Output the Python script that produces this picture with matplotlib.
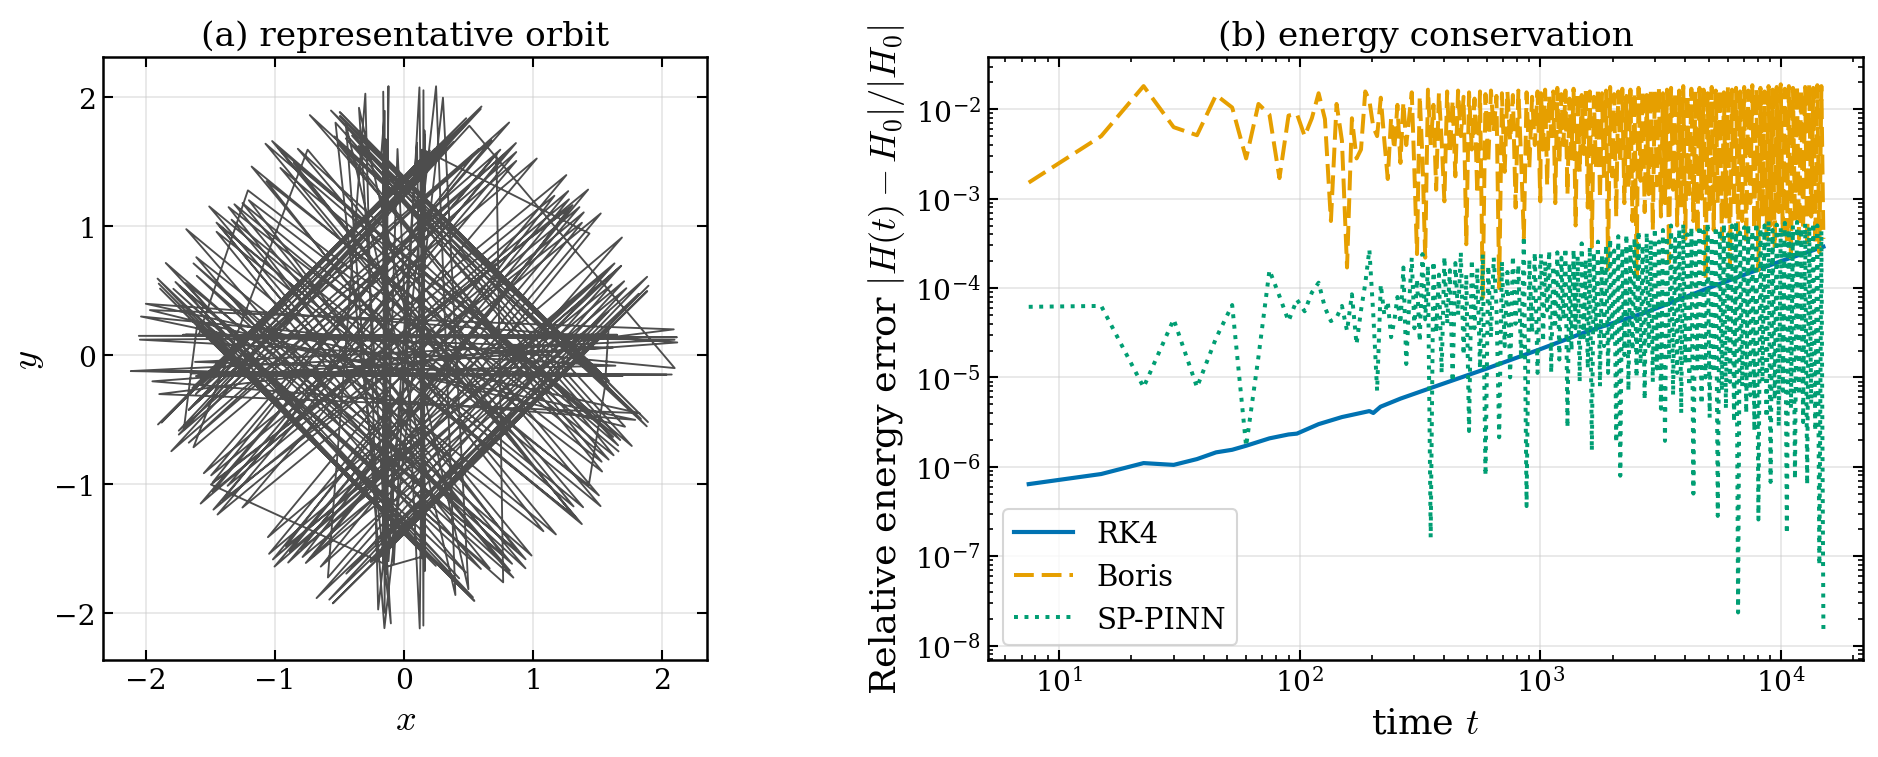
import numpy as np
import matplotlib
matplotlib.use('Agg')
import matplotlib.pyplot as plt

plt.rcParams['font.family'] = 'serif'
plt.rcParams['font.serif'] = ['DejaVu Serif']
plt.rcParams['mathtext.fontset'] = 'cm'

# ---- (a) orbit: sampled positions in time order, polar angle (deg) / radius ----
orbit_ang = [84.2, 188.2, 75.3, 188.1, 76.9, 199.4, 63.3, 218.6, 36.7, 244.7,
             12.1, 263.5, 14.8, 261.9, 6.0, 253.0, 18.6, 242.1, 41.7, 213.8,
             264.3, 95.5, 265.3, 94.5, 265.7, 86.5, 275.5, 84.8, 274.1, 85.0,
             275.5, 86.7, 267.2, 95.2, 264.1, 94.5,
             96.5, 352.8, 105.0, 353.8, 103.3, 338.3, 119.8, 316.6, 146.6, 291.9,
             169.1, 275.8, 164.7, 278.1, 173.6, 285.9, 162.8, 296.3, 139.8, 324.9,
             354.5, 185.7, 355.9, 185.2, 354.6, 183.3, 2.1, 174.5, 5.5, 174.6,
             3.8, 174.7, 5.6, 176.6, 357.2, 185.4,
             186.8, 82.8, 195.5, 83.8, 188.8, 72.7, 194.2, 67.9, 211.9, 46.7,
             238.3, 18.8, 260.9, 6.7, 254.0, 6.1, 261.9, 17.9, 248.5, 33.3,
             84.6, 275.5, 85.8, 275.1, 84.7, 273.3, 91.8, 264.7, 95.9, 265.7,
             94.8, 264.3, 93.3, 264.8,
             276.5, 172.2, 286.0, 173.8, 278.6, 162.7, 285.9, 154.7, 308.4, 128.3,
             334.5, 102.2, 352.9, 104.8, 353.2, 97.7, 343.7, 107.6, 331.7, 133.4,
             174.6, 5.8, 175.8, 4.9, 174.6, 3.3, 181.8, 354.5, 185.7, 355.8,
             184.8, 354.6, 183.3, 354.5,
             7.7, 263.9, 15.9, 260.9, 16.8, 243.3, 41.7, 213.6, 70.1, 190.5,
             83.6, 195.7, 81.4, 185.8, 72.7, 198.6,
             171.8, 276.1, 163.7, 278.6, 161.7, 300.0, 135.0, 329.6, 107.3, 351.4,
             96.1, 344.7, 98.1, 353.3, 106.6, 342.1,
             169.9, 5.5, 189.0, 346.2, 168.7, 2.7, 185.9, 344.4, 171.6, 357.3,
             74.1, 202.4, 61.1, 219.0, 40.2, 238.5, 22.4, 255.2, 14.7, 250.2,
             23.6, 235.8, 45.0, 216.1, 64.9, 198.5, 74.3, 194.2, 65.7, 210.5,
             48.0, 233.2, 28.4, 251.1,
             98.4, 264.2, 83.2, 282.1, 104.1, 265.9, 81.4, 285.4, 100.3, 267.2,
             106.4, 338.6, 121.6, 318.3, 142.6, 297.4, 158.8, 283.9, 162.2, 296.2,
             144.9, 316.6, 123.2, 337.2, 105.0, 345.0, 111.4, 333.0, 128.9, 310.3,
             149.9, 289.8, 163.9, 293.6,
             65.4, 215.5, 43.4, 237.3, 22.5, 240.8, 38.5, 220.5, 60.0, 202.1,
             62.2, 216.5, 42.0, 239.8, 22.4, 245.2, 35.8, 223.3, 56.0, 203.6,
             115.1, 324.3, 136.7, 302.5, 156.4, 299.7, 141.8, 319.7, 121.2, 338.7,
             117.2, 322.5, 138.3, 300.8, 159.0, 296.2, 144.7, 316.5, 123.4, 335.9]
orbit_rad = [1.55, 1.62, 1.90, 1.58, 1.70, 1.85, 1.75, 1.80, 1.72, 1.78,
             1.62, 1.56, 1.95, 1.60, 1.54, 1.98, 1.80, 1.70, 1.75, 1.80,
             1.62, 1.58, 1.70, 2.05, 1.60, 1.65, 1.56, 1.75, 2.10, 1.60,
             1.68, 2.08, 1.62, 1.66, 1.57, 1.90,
             1.56, 1.60, 1.92, 1.55, 1.75, 1.90, 1.72, 1.80, 1.74, 1.78,
             1.64, 1.55, 1.96, 1.60, 1.57, 1.95, 1.82, 1.72, 1.78, 1.75,
             1.58, 1.62, 2.08, 1.56, 1.70, 2.10, 1.62, 1.58, 1.66, 1.60,
             2.12, 1.72, 1.55, 2.05, 1.64, 1.60,
             1.57, 1.60, 1.95, 1.55, 1.66, 2.02, 1.72, 1.80, 1.76, 1.70,
             1.74, 1.70, 1.62, 1.58, 2.00, 1.56, 1.60, 1.98, 1.76, 1.72,
             1.60, 1.66, 2.06, 1.58, 1.72, 2.12, 1.60, 1.62, 1.56, 2.00,
             1.68, 1.60, 2.09, 1.65,
             1.56, 1.62, 1.98, 1.55, 1.65, 2.00, 1.75, 1.78, 1.74, 1.72,
             1.80, 1.66, 1.58, 1.95, 1.55, 1.60, 1.96, 1.78, 1.74, 1.76,
             1.60, 1.58, 2.06, 1.64, 1.70, 2.10, 1.62, 1.56, 1.60, 2.04,
             1.66, 1.70, 2.12, 1.57,
             1.60, 1.56, 1.97, 1.62, 1.80, 1.75, 1.72, 1.78, 1.70, 1.64,
             1.57, 1.98, 1.62, 1.55, 2.00, 1.80,
             1.62, 1.56, 1.98, 1.62, 1.78, 1.74, 1.70, 1.78, 1.72, 1.60,
             1.56, 1.96, 1.60, 1.58, 1.98, 1.80,
             2.00, 2.10, 1.92, 1.88, 2.04, 2.12, 1.96, 1.86, 2.06, 2.10,
             1.85, 1.95, 1.80, 1.90, 1.78, 1.92, 1.82, 1.75, 1.88, 2.00,
             1.78, 1.86, 1.80, 1.95, 1.76, 1.84, 1.90, 1.72, 1.98, 1.80,
             1.88, 1.76, 1.92, 1.82,
             2.05, 1.98, 2.10, 1.90, 1.85, 2.12, 2.02, 1.88, 1.95, 2.08,
             1.88, 1.80, 1.95, 1.76, 1.90, 1.82, 1.98, 1.78, 1.86, 1.92,
             1.75, 1.84, 1.96, 1.80, 1.74, 1.90, 2.00, 1.78, 1.88, 1.82,
             1.95, 1.76, 1.86, 1.92,
             1.72, 1.82, 1.76, 1.88, 1.70, 1.84, 1.78, 1.90, 1.74, 1.80,
             1.86, 1.70, 1.92, 1.76, 1.82, 1.74, 1.88, 1.72, 1.84, 1.78,
             1.76, 1.86, 1.72, 1.84, 1.78, 1.90, 1.70, 1.82, 1.88, 1.74,
             1.80, 1.92, 1.76, 1.84, 1.72, 1.86, 1.78, 1.90, 1.74, 1.82]

# ---- (b) relative energy error ----
dt = 7.5
t_early = dt * np.arange(1, 41)          # 7.5 ... 300
t_mid = np.geomspace(307.5, 1000, 46)
t_late = np.geomspace(1007.5, 15000, 140)

# log10 of the error
boris_early = [-2.82, -2.30, -1.74, -2.20, -2.29, -1.84, -1.98, -2.55, -1.94, -2.06,
               -2.77, -2.07, -2.05, -2.30, -2.10, -1.82, -2.11, -3.25, -1.94, -2.35,
               -3.77, -2.10, -2.55, -2.45, -1.80, -1.90, -2.20, -2.30, -1.87, -2.35,
               -2.78, -2.10, -2.45, -1.95, -2.60, -1.92, -2.40, -2.10, -1.81, -2.70]
boris_mid = [-3.62, -1.85, -2.55, -3.66, -1.78, -2.40, -1.95, -2.90, -1.82, -2.35,
             -3.03, -1.80, -2.50, -1.90, -2.75, -1.79, -2.30, -1.86, -3.51, -1.81,
             -2.45, -1.88, -2.95, -1.80, -4.11, -1.83, -2.60, -1.79, -2.25, -1.85,
             -4.00, -1.82, -2.70, -1.80, -2.35, -1.84, -3.10, -1.79, -2.55, -3.44,
             -1.81, -2.65, -1.86, -2.40, -1.80, -3.03]
boris_late = [-1.82, -2.45, -1.78, -2.85, -1.85, -2.30, -1.80, -3.05, -1.76, -2.60,
              -1.83, -2.40, -1.79, -2.95, -1.88, -2.55, -1.77, -3.30, -1.81, -2.70,
              -1.84, -2.50, -1.78, -3.10, -1.80, -3.54, -1.86, -2.65, -1.76, -3.00,
              -1.82, -2.80, -1.79, -3.79, -1.75, -2.75, -1.83, -3.20, -1.80, -2.60,
              -1.77, -3.05, -1.85, -2.90, -1.78, -3.25, -1.81, -3.86, -1.76, -2.80,
              -1.79, -3.15, -1.84, -2.95, -1.77, -3.35, -1.80, -2.85, -1.75, -3.20,
              -1.82, -3.05, -1.78, -3.71, -1.76, -2.90, -1.81, -3.30, -1.79, -3.10,
              -1.74, -3.45, -1.83, -2.95, -1.77, -3.25, -1.80, -3.40, -1.76, -3.00,
              -1.78, -3.90, -1.82, -3.15, -1.75, -3.35, -1.79, -3.05, -1.77, -3.45,
              -1.81, -3.20, -1.74, -3.75, -1.78, -3.10, -1.76, -3.40, -1.80, -3.25,
              -1.75, -3.50, -1.79, -3.05, -1.73, -3.35, -1.77, -3.80, -1.76, -3.20,
              -1.80, -3.45, -1.74, -3.30, -1.78, -3.55, -1.75, -3.15, -1.72, -3.40,
              -1.77, -3.50, -1.74, -3.70, -1.76, -3.25, -1.73, -3.45, -1.78, -3.35,
              -1.75, -3.55, -1.72, -3.20, -1.76, -3.50, -1.73, -3.60, -1.74, -3.45]

pinn_early = [-4.21, -4.20, -5.11, -4.35, -5.11, -4.56, -4.19, -5.77, -4.77, -3.80,
              -4.09, -4.37, -4.13, -4.26, -4.05, -3.94, -4.22, -4.37, -4.33, -4.20,
              -4.48, -4.07, -4.63, -4.25, -3.95, -3.57, -4.30, -5.15, -3.96, -4.30,
              -4.15, -4.55, -4.37, -4.10, -4.40, -3.77, -4.85, -4.20, -3.66, -4.45]
pinn_mid = [-3.90, -4.60, -3.62, -4.35, -3.75, -6.79, -3.70, -4.50, -3.85, -4.95,
            -3.65, -4.40, -3.80, -5.05, -3.72, -4.30, -3.60, -4.75, -3.85, -5.60,
            -3.68, -4.45, -3.78, -4.90, -3.62, -6.10, -3.75, -4.55, -3.66, -4.20,
            -5.67, -3.70, -4.65, -3.82, -5.00, -3.64, -4.40, -3.74, -4.80, -3.42,
            -6.44, -3.68, -4.50, -3.60, -4.95, -3.72]
pinn_late = [-3.62, -4.60, -3.70, -4.25, -3.58, -4.95, -3.75, -4.40, -3.60, -4.80,
             -3.66, -4.35, -3.55, -5.56, -3.72, -4.70, -3.57, -4.45, -3.64, -5.05,
             -3.50, -4.55, -3.68, -4.90, -3.54, -5.82, -3.60, -4.50, -3.48, -5.10,
             -3.63, -4.65, -3.52, -4.95, -3.45, -4.60, -3.58, -5.73, -3.42, -6.10,
             -3.55, -4.75, -3.40, -5.15, -3.50, -4.70, -3.44, -5.00, -3.36, -4.85,
             -3.52, -5.25, -3.38, -4.65, -3.46, -5.05, -3.33, -4.90, -3.48, -5.35,
             -3.35, -5.71, -3.42, -4.80, -3.30, -5.20, -3.45, -4.95, -3.34, -5.40,
             -3.28, -4.85, -3.40, -5.10, -3.32, -6.30, -3.44, -4.90, -3.30, -5.30,
             -3.37, -5.00, -3.27, -5.45, -3.42, -4.95, -3.31, -6.55, -3.35, -5.15,
             -3.28, -5.35, -3.40, -5.05, -3.30, -5.50, -3.26, -7.63, -3.38, -5.10,
             -3.32, -5.40, -3.29, -5.20, -3.36, -5.60, -3.27, -6.59, -3.33, -5.05,
             -3.30, -5.45, -3.25, -6.17, -3.35, -5.25, -3.29, -5.55, -3.32, -5.15,
             -3.27, -6.75, -3.34, -5.35, -3.30, -6.14, -3.26, -5.20, -3.33, -5.50,
             -3.28, -6.20, -3.31, -5.30, -3.27, -5.60, -3.30, -7.10, -3.36, -7.82]

rk4_t = [7.5, 15, 22.5, 30, 37.5, 45, 52.5, 60, 75, 90, 97.5, 120, 150,
         195, 202.5, 217, 263, 355, 591, 1000, 1580, 2725, 5100, 10000, 15000]
rk4_err = [6.4e-7, 8.3e-7, 1.1e-6, 1.05e-6, 1.22e-6, 1.45e-6, 1.55e-6, 1.72e-6,
           2.08e-6, 2.3e-6, 2.35e-6, 3.0e-6, 3.6e-6, 4.2e-6, 4.0e-6, 4.7e-6,
           5.8e-6, 7.7e-6, 1.24e-5, 2.07e-5, 3.3e-5, 5.3e-5, 1.02e-4, 2.0e-4, 2.9e-4]

t_all = np.concatenate([t_early, t_mid, t_late])
boris_err = 10.0 ** np.array(boris_early + boris_mid + boris_late)
pinn_err = 10.0 ** np.array(pinn_early + pinn_mid + pinn_late)

ang = np.deg2rad(orbit_ang)
x_orb = np.array(orbit_rad) * np.cos(ang)
y_orb = np.array(orbit_rad) * np.sin(ang)

fig = plt.figure(figsize=(12.52, 5.0533), dpi=150)
ax1 = fig.add_axes([0.0550, 0.1282, 0.3216, 0.7949])
ax2 = fig.add_axes([0.5262, 0.1282, 0.4658, 0.7949])

# (a)
ax1.plot(x_orb, y_orb, color='#4d4d4d', lw=0.9)
ax1.set_xlim(-2.33, 2.35)
ax1.set_ylim(-2.36, 2.31)
ax1.set_xticks([-2, -1, 0, 1, 2])
ax1.set_yticks([-2, -1, 0, 1, 2])
ax1.set_xlabel('$x$', fontsize=17.5)
ax1.set_ylabel('$y$', fontsize=17.5)
ax1.set_title('(a) representative orbit', fontsize=16.5)

# (b)
ax2.plot(rk4_t, rk4_err, color='#0072B2', lw=2.0, label='RK4')
ax2.plot(t_all, boris_err, color='#E69F00', lw=1.9, ls=(0, (5, 2)), label='Boris')
ax2.plot(t_all, pinn_err, color='#009E73', lw=1.9, ls=':', label='SP-PINN')
ax2.set_xscale('log')
ax2.set_yscale('log')
ax2.set_xlim(5.09, 21900)
ax2.set_ylim(10 ** -8.16, 10 ** -1.418)
ax2.set_xlabel('time $t$', fontsize=17.5)
ax2.set_ylabel('Relative energy error $|H(t) - H_0|/|H_0|$', fontsize=17.5)
ax2.set_title('(b) energy conservation', fontsize=16.5)
ax2.legend(loc='lower left', fontsize=14)

for ax in (ax1, ax2):
    ax.grid(True, which='major', color='#cccccc', alpha=0.5, lw=0.8)
    ax.tick_params(which='both', direction='in', top=True, right=True, labelsize=13.5)
    ax.tick_params(which='major', length=5, width=1.0)
    ax.tick_params(which='minor', length=2.5, width=0.8)
    for s in ax.spines.values():
        s.set_linewidth(1.2)

fig.savefig('out.png', dpi=150)
